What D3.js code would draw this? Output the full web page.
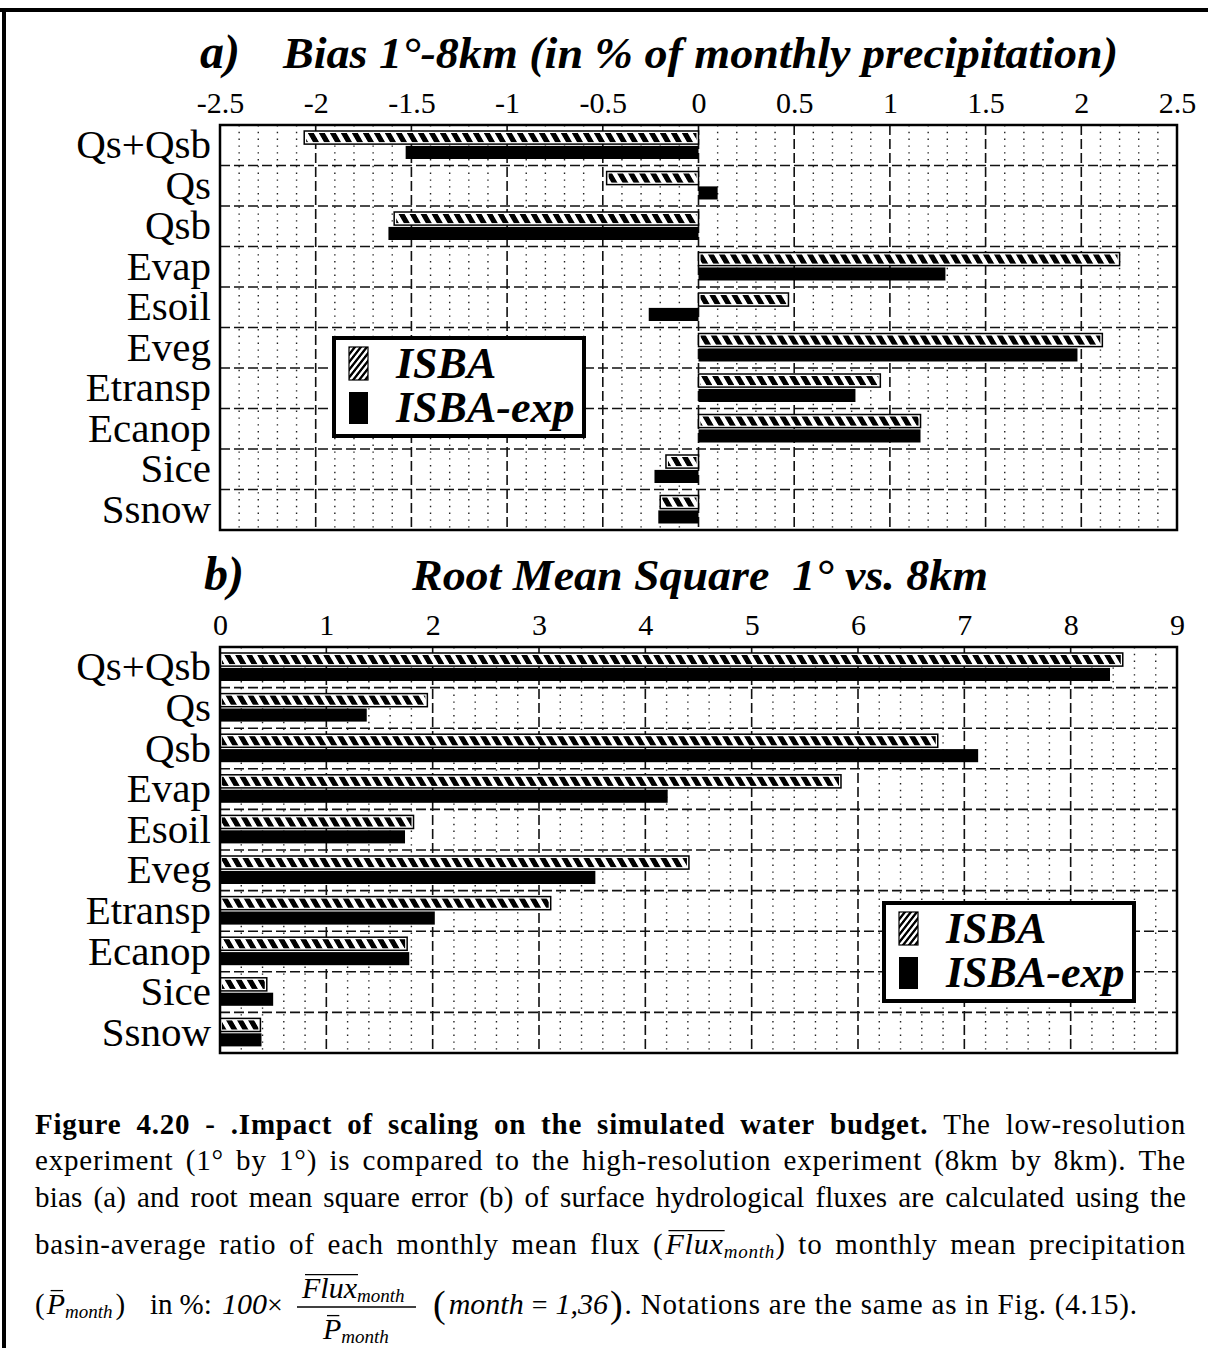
<!DOCTYPE html>
<html><head><meta charset="utf-8">
<script src="https://cdn.jsdelivr.net/npm/d3@7"></script>
<style>
body{margin:0;background:#fff;}
svg{display:block;}
text{font-family:"Liberation Serif","Times New Roman",serif;fill:#000;}
</style></head><body>
<svg id="c" width="1208" height="1348"></svg>
<script>
// ---------- data ----------
const categories = ["Qs+Qsb","Qs","Qsb","Evap","Esoil","Eveg","Etransp","Ecanop","Sice","Ssnow"];
const seriesNames = ["ISBA","ISBA-exp"];
const biasISBA    = [-2.06,-0.48,-1.59, 2.20, 0.47, 2.11, 0.95, 1.16,-0.17,-0.20];
const biasISBAexp = [-1.53, 0.10,-1.62, 1.29,-0.26, 1.98, 0.82, 1.16,-0.23,-0.21];
const rmsISBA     = [8.49, 1.95, 6.75, 5.84, 1.82, 4.41, 3.11, 1.76, 0.44, 0.38];
const rmsISBAexp  = [8.37, 1.38, 7.13, 4.21, 1.74, 3.53, 2.02, 1.78, 0.50, 0.39];
const biasTicks = [-2.5,-2,-1.5,-1,-0.5,0,0.5,1,1.5,2,2.5];
const rmsTicks  = [0,1,2,3,4,5,6,7,8,9];

const svg = d3.select("#c");
svg.append("rect").attr("width",1208).attr("height",1348).attr("fill","#fff");

// outer frame (top + left)
svg.append("line").attr("x1",0).attr("x2",1208).attr("y1",10).attr("y2",10).attr("stroke","#000").attr("stroke-width",4);
svg.append("line").attr("x1",4).attr("x2",4).attr("y1",8).attr("y2",1348).attr("stroke","#000").attr("stroke-width",4);

const defs = svg.append("defs");
const hp = defs.append("pattern").attr("id","hatch").attr("patternUnits","userSpaceOnUse")
  .attr("width",11).attr("height",40).attr("patternTransform","skewX(30)");
hp.append("rect").attr("width",11).attr("height",40).attr("fill","#fff");
hp.append("rect").attr("width",6).attr("height",40).attr("fill","#000");
const lp = defs.append("pattern").attr("id","hatchL").attr("patternUnits","userSpaceOnUse")
  .attr("width",6).attr("height",40).attr("patternTransform","skewX(-38)");
lp.append("rect").attr("width",6).attr("height",40).attr("fill","#fff");
lp.append("rect").attr("width",3).attr("height",40).attr("fill","#000");

const X0 = 220, X1 = 1177;

function drawPanel(cfg){
  const g = svg.append("g");
  const x = d3.scaleLinear().domain(cfg.domain).range([X0,X1]);
  const y = d3.scaleBand().domain(categories).range([cfg.top,cfg.bottom]);
  const sub = d3.scaleBand().domain(seriesNames).range([6,34]).paddingInner(0.12);

  // minor dotted verticals
  const minor = d3.range(cfg.domain[0], cfg.domain[1]+1e-9, cfg.minor)
    .filter(v => Math.abs(Math.round(v/cfg.major)*cfg.major - v) > 1e-6);
  g.append("g").selectAll("line").data(minor).join("line")
    .attr("x1",d=>x(d)).attr("x2",d=>x(d)).attr("y1",cfg.top).attr("y2",cfg.bottom)
    .attr("stroke","#222").attr("stroke-width",1.4).attr("stroke-dasharray","1.4,5.4");
  // major dashed verticals
  const majors = cfg.ticks.filter(v => v>cfg.domain[0] && v<cfg.domain[1]);
  g.append("g").selectAll("line").data(majors).join("line")
    .attr("x1",d=>x(d)).attr("x2",d=>x(d)).attr("y1",cfg.top).attr("y2",cfg.bottom)
    .attr("stroke","#111").attr("stroke-width",1.6).attr("stroke-dasharray","10,4");
  // dashed horizontals between rows
  g.append("g").selectAll("line").data(categories.slice(1)).join("line")
    .attr("x1",X0).attr("x2",X1).attr("y1",d=>y(d)).attr("y2",d=>y(d))
    .attr("stroke","#111").attr("stroke-width",1.6).attr("stroke-dasharray","10,4");

  // bars
  const rows = categories.map((c,i)=>({c, a:cfg.a[i], b:cfg.b[i]}));
  const zero = x(0);
  const bg = g.append("g");
  rows.forEach(r=>{
    const ya = y(r.c)+sub("ISBA"), h = sub.bandwidth();
    const xa = Math.min(zero,x(r.a)), wa = Math.abs(x(r.a)-zero);
    bg.append("rect").attr("x",xa).attr("y",ya).attr("width",wa).attr("height",h)
      .attr("fill","#fff").attr("stroke","#000").attr("stroke-width",1.5);
    bg.append("rect").attr("x",xa+2).attr("y",ya+2).attr("width",Math.max(0,wa-4)).attr("height",h-4)
      .attr("fill","url(#hatch)");
    const yb = y(r.c)+sub("ISBA-exp");
    bg.append("rect").attr("x",Math.min(zero,x(r.b))).attr("y",yb)
      .attr("width",Math.abs(x(r.b)-zero)).attr("height",h).attr("fill","#000");
  });

  // frame
  g.append("rect").attr("x",X0).attr("y",cfg.top).attr("width",X1-X0).attr("height",cfg.bottom-cfg.top)
    .attr("fill","none").attr("stroke","#000").attr("stroke-width",2.5);

  // top axis labels
  const ax = g.append("g").attr("transform",`translate(0,${cfg.top})`)
    .call(d3.axisTop(x).tickValues(cfg.ticks).tickSize(0).tickPadding(12).tickFormat(d=>String(d)));
  ax.select(".domain").remove();
  ax.attr("font-family",null).attr("font-size",null);
  ax.selectAll("text").style("font-size","30px").style("font-family",'"Liberation Serif",serif');

  // category labels
  const ay = g.append("g").attr("transform",`translate(${X0},0)`)
    .call(d3.axisLeft(y).tickSize(0).tickPadding(9));
  ay.select(".domain").remove();
  ay.attr("font-family",null).attr("font-size",null);
  ay.selectAll("text").style("font-size","41px").style("font-family",'"Liberation Serif",serif');

  // titles
  g.append("text").attr("x",cfg.lx).attr("y",cfg.top-57).text(cfg.letter)
    .style("font-size","48px").style("font-weight","bold").style("font-style","italic");
  g.append("text").attr("x",cfg.tx).attr("y",cfg.top-57).style("white-space","pre")
    .attr("textLength",cfg.tw).attr("lengthAdjust","spacingAndGlyphs").text(cfg.title)
    .style("font-size","44px").style("font-weight","bold").style("font-style","italic");

  // legend
  const L = g.append("g").attr("transform",`translate(${cfg.legX},${cfg.legY})`);
  L.append("rect").attr("x",2).attr("y",2).attr("width",250).attr("height",98)
    .attr("fill","#fff").attr("stroke","#000").attr("stroke-width",4);
  L.append("rect").attr("x",17).attr("y",11).attr("width",19).attr("height",33)
    .attr("fill","url(#hatchL)").attr("stroke","#000").attr("stroke-width",1.2);
  L.append("rect").attr("x",17).attr("y",56).attr("width",19).attr("height",32).attr("fill","#000");
  const lt = s => s.style("font-size","44px").style("font-weight","bold").style("font-style","italic");
  lt(L.append("text").attr("x",64).attr("y",42).text(seriesNames[0]));
  lt(L.append("text").attr("x",64).attr("y",86).text(seriesNames[1]));
}

drawPanel({domain:[-2.5,2.5], ticks:biasTicks, minor:0.1, major:0.5, top:125, bottom:530,
  a:biasISBA, b:biasISBAexp, letter:"a)", lx:200, tx:283, tw:835,
  title:"Bias 1°-8km (in % of monthly precipitation)", legX:332, legY:336});
drawPanel({domain:[0,9], ticks:rmsTicks, minor:0.2, major:1, top:647, bottom:1053,
  a:rmsISBA, b:rmsISBAexp, letter:"b)", lx:204, tx:412, tw:576,
  title:"Root Mean Square  1° vs. 8km", legX:882, legY:901});

// ---------- caption ----------
const cap = svg.append("g");
const FS = 29;
function renderParts(g, parts, ls){
  let x = 0;
  parts.forEach(p=>{
    const size = p.size||FS;
    const t = g.append("text").attr("x",x).attr("y",p.dy||0)
      .style("font-size",size+"px")
      .style("font-style",p.it?"italic":"normal")
      .style("font-weight",p.b?"bold":"normal")
      .style("letter-spacing",(ls||0)+"px")
      .text(p.t);
    if(p.len){ t.attr("textLength",p.len).attr("lengthAdjust","spacing"); }
    const w = p.len || t.node().getComputedTextLength();
    if(p.over){
      const oy = (p.dy||0) - size*0.78;
      g.append("line").attr("x1",x+(p.oo||3)).attr("x2",x+w+(p.oe||1)).attr("y1",oy).attr("y2",oy)
        .attr("stroke","#000").attr("stroke-width",1.3);
    }
    x += w + (p.gap||0);
  });
  return x;
}
function words(str, opts){ return str.split(" ").map(w=>[Object.assign({t:w},opts||{})]); }
function justify(tokens, y, x0, x1){
  const target = x1-x0, ng = tokens.length-1;
  const nChars = d3.sum(tokens, parts=>d3.sum(parts,p=>p.t.length));
  let gs = tokens.map(parts=>{ const g = cap.append("g"); return {g, w:renderParts(g,parts,0)}; });
  let total = d3.sum(gs,d=>d.w);
  const desiredGap = 11;
  let ls = (target - total - ng*desiredGap) / nChars;
  ls = Math.max(-0.6, Math.min(0.8, ls));
  if (Math.abs(ls) > 0.05){
    gs.forEach(d=>d.g.remove());
    gs = tokens.map(parts=>{ const g = cap.append("g"); return {g, w:renderParts(g,parts,ls)}; });
    total = d3.sum(gs,d=>d.w);
  }
  const gap = (target-total)/ng;
  let x = x0;
  gs.forEach(d=>{ d.g.attr("transform",`translate(${x},${y})`); x += d.w+gap; });
}
justify(words("Figure 4.20 - .Impact of scaling on the simulated water budget.",{b:true})
  .concat(words("The low-resolution")), 1134, 35, 1186);
justify(words("experiment (1° by 1°) is compared to the high-resolution experiment (8km by 8km). The"), 1170, 35, 1186);
justify(words("bias (a) and root mean square error (b) of surface hydrological fluxes are calculated using the"), 1207, 35, 1186);
justify(words("basin-average ratio of each monthly mean flux")
  .concat([[{t:"(",gap:2},{t:"Flux",it:true,size:30,over:true},{t:"month",it:true,size:19,dy:4},{t:")",gap:0}]])
  .concat(words("to monthly mean precipitation")), 1254, 35, 1186);

function place(parts, x, y){ const g = cap.append("g").attr("transform",`translate(${x},${y})`); return renderParts(g,parts,0); }
const Y5 = 1314;
place([{t:"(",gap:2},{t:"P",it:true,size:30,over:true,oo:4,oe:-2},{t:"month",it:true,size:19,dy:4,gap:3},{t:")"}], 35, Y5);
place([{t:"in",gap:7},{t:"%:"}], 150, Y5);
place([{t:"100",it:true,size:30},{t:"×",size:28}], 222, Y5);
// fraction
cap.append("line").attr("x1",297).attr("x2",416).attr("y1",Y5-7).attr("y2",Y5-7).attr("stroke","#000").attr("stroke-width",1.3);
place([{t:"Flux",it:true,size:30,over:true},{t:"month",it:true,size:19,dy:4}], 302, 1298);
place([{t:"P",it:true,size:30,over:true,oo:4,oe:-2},{t:"month",it:true,size:19,dy:4}], 323, 1339);
const pend = place([{t:"(",size:38,dy:3,gap:3},{t:"month",it:true,size:30,gap:8},{t:"=",size:28,gap:8},{t:"1,36",it:true,size:30,gap:2},{t:")",size:38,dy:3}], 433, Y5);
const nx = 433 + pend + 2;
place([{t:". Notations are the same as in Fig. (4.15).", size:29, len:1137-nx}], nx, Y5);
</script>
</body></html>
